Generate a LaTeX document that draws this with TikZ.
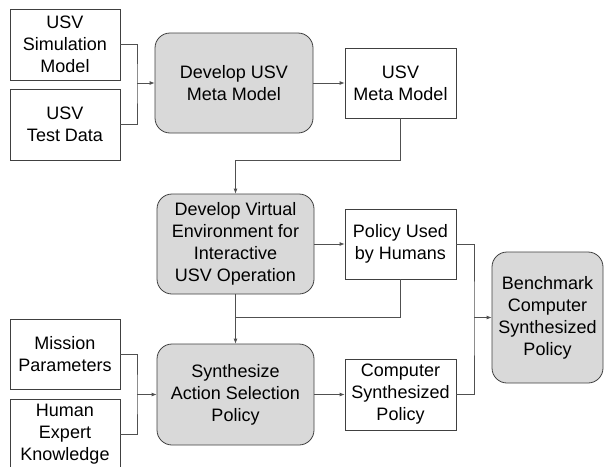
\documentclass[tikz,border=0pt]{standalone}
\usepackage{fontspec}
\setmainfont{Liberation Sans}
\usetikzlibrary{arrows.meta}
\definecolor{boxfill}{HTML}{D9D9D9}
\definecolor{edge}{HTML}{404040}
\definecolor{wire}{HTML}{505050}
\tikzset{
  base/.style={draw=edge, line width=0.8pt, align=center, inner sep=0pt,
    font=\fontsize{18}{22}\selectfont, text=black},
  databox/.style={base, minimum width=110pt, minimum height=71pt},
  procbox/.style={base, fill=boxfill, rounded corners=15pt},
  wireline/.style={draw=wire, line width=0.8pt},
  arr/.style={wireline, -{Latex[length=5pt,width=4pt]}}
}
\begin{document}
\begin{tikzpicture}[x=1pt,y=-1pt]
\clip (0,0) rectangle (605,466);
\fill[white] (0,0) rectangle (605,466);
% data boxes
\node[databox] (sim) at (65,44.5) {USV\\Simulation\\Model};
\node[databox] (test) at (65,124.5) {USV\\Test Data};
\node[databox, minimum width=111pt, minimum height=70pt] (meta) at (400.5,83) {USV\\Meta Model};
\node[databox, minimum width=111pt, minimum height=70pt] (humans) at (400.5,244) {Policy Used\\by Humans};
\node[databox, minimum height=70pt] (mission) at (65,354) {Mission\\Parameters};
\node[databox] (expert) at (65,434.5) {Human\\Expert\\Knowledge};
\node[databox, minimum width=111pt] (comp) at (400.5,394.5) {Computer\\Synthesized\\Policy};
% process boxes
\node[procbox, minimum width=158pt, minimum height=100pt] (dev) at (234,83) {Develop USV\\Meta Model};
\node[procbox, minimum width=157pt, minimum height=100pt] (virt) at (235.5,244) {Develop Virtual\\Environment for\\Interactive\\USV Operation};
\node[procbox, minimum width=157pt, minimum height=101pt] (synth) at (235.5,394.5) {Synthesize\\Action Selection\\Policy};
\node[procbox, minimum width=111pt, minimum height=131pt] (bench) at (547.5,317.5) {Benchmark\\Computer\\Synthesized\\Policy};
% junction points
\coordinate (j1) at (137,83);
\coordinate (j2) at (137,394.5);
\coordinate (j3) at (474,317.5);
\coordinate (k1) at (235.5,160);
\coordinate (k2) at (235.5,317);
% connectors
\draw[wireline] (sim.east) -| (j1) |- (test.east);
\draw[arr] (j1) -- (dev.west);
\draw[arr] (dev.east) -- (meta.west);
\draw[arr] (meta.south) |- (k1) -- (virt.north);
\draw[arr] (virt.east) -- (humans.west);
\draw[wireline] (humans.south) |- (k2);
\draw[arr] (virt.south) -- (synth.north);
\draw[wireline] (mission.east) -| (j2) |- (expert.east);
\draw[arr] (j2) -- (synth.west);
\draw[arr] (synth.east) -- (comp.west);
\draw[wireline] (humans.east) -| (j3) |- (comp.east);
\draw[arr] (j3) -- (bench.west);
\end{tikzpicture}
\end{document}
